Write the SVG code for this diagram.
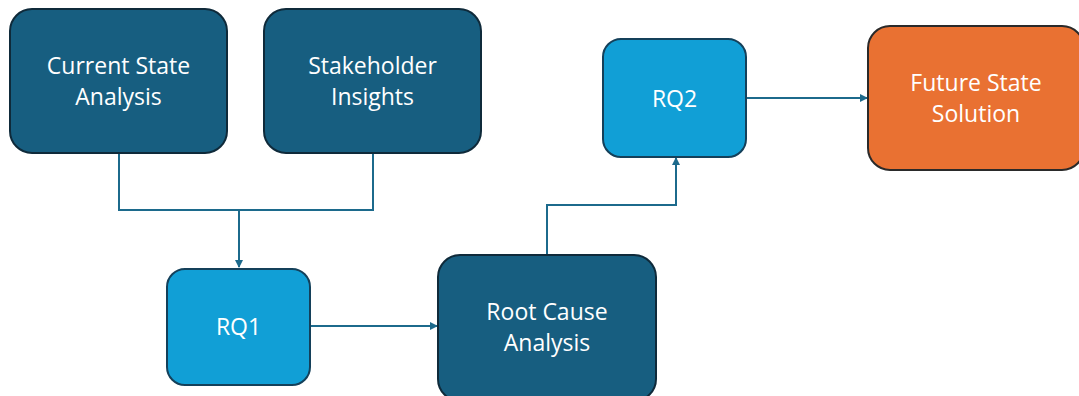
<svg xmlns="http://www.w3.org/2000/svg" width="1079" height="396" viewBox="0 0 1079 396">
<defs>
<style>
.dark{fill:#175E80;stroke:#0F2A3A;stroke-width:2}
.light{fill:#119FD6;stroke:#14405A;stroke-width:2}
.orange{fill:#E97132;stroke:#2A2A2A;stroke-width:2}
.t{font-family:"Open Sans","Liberation Sans",sans-serif;font-size:23px;fill:#FFFFFF;text-anchor:middle}
.c{fill:none;stroke:#1C6A8C;stroke-width:2}
</style>
<marker id="ah" markerWidth="8" markerHeight="8" refX="7" refY="4" orient="auto" markerUnits="userSpaceOnUse">
<path d="M0,0 L8,4 L0,8 Z" fill="#1C6A8C"/>
</marker>
</defs>
<rect width="1079" height="396" fill="#FFFFFF"/>
<g id="connectors">
<path class="c" d="M119,153 V210 H373 V153"/>
<path class="c" d="M239,210 V267" marker-end="url(#ah)"/>
<path class="c" d="M310,326 H437" marker-end="url(#ah)"/>
<path class="c" d="M547,255 V205 H676 V158" marker-end="url(#ah)"/>
<path class="c" d="M747,98 H867" marker-end="url(#ah)"/>
</g>
<g id="current-state">
<rect class="dark" x="10" y="9" width="217" height="144" rx="22"/>
<text class="t" x="118.5" y="74">Current State</text>
<text class="t" x="118.5" y="105">Analysis</text>
</g>
<g id="stakeholder">
<rect class="dark" x="264" y="9" width="217" height="144" rx="22"/>
<text class="t" x="372.5" y="74">Stakeholder</text>
<text class="t" x="372.5" y="105">Insights</text>
</g>
<g id="rq1">
<rect class="light" x="167" y="269" width="143" height="116" rx="18"/>
<text class="t" x="238.5" y="335">RQ1</text>
</g>
<g id="root-cause">
<rect class="dark" x="438" y="255" width="218" height="146" rx="22"/>
<text class="t" x="547" y="320">Root Cause</text>
<text class="t" x="547" y="351">Analysis</text>
</g>
<g id="rq2">
<rect class="light" x="603" y="39" width="143" height="118" rx="18"/>
<text class="t" x="674.5" y="107">RQ2</text>
</g>
<g id="future-state">
<rect class="orange" x="868" y="26" width="216" height="144" rx="22"/>
<text class="t" x="976" y="91">Future State</text>
<text class="t" x="976" y="122">Solution</text>
</g>
</svg>
